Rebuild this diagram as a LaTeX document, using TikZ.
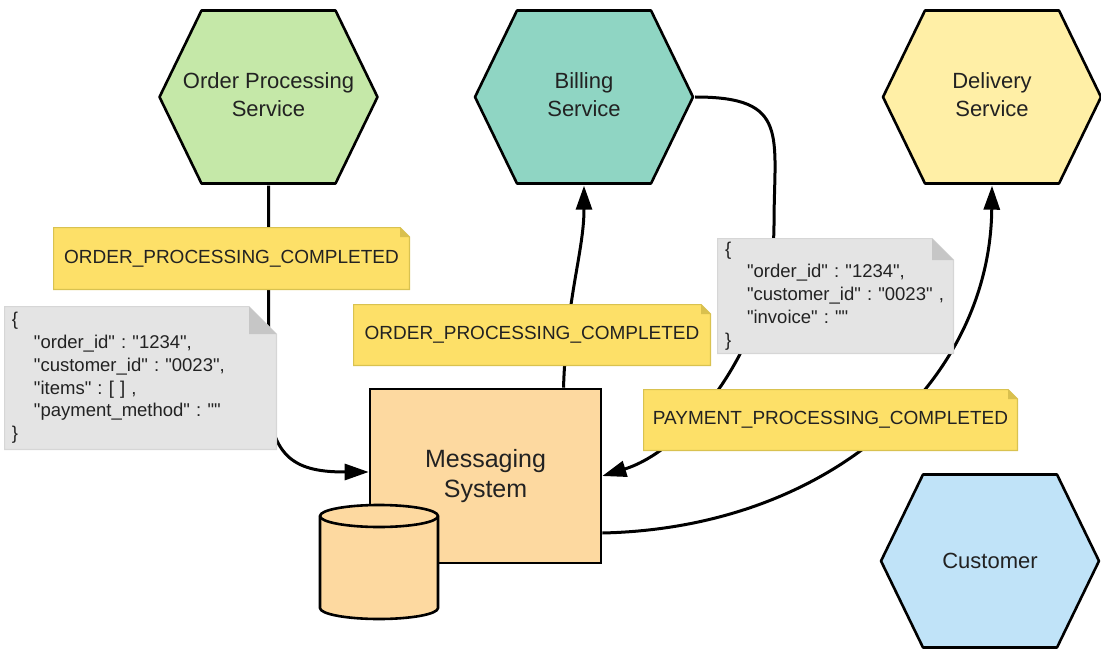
\documentclass[tikz,border=0pt]{standalone}
\usepackage{fontspec}
\setmainfont{Liberation Sans}
\usetikzlibrary{arrows.meta}
\definecolor{opsgreen}{HTML}{C5E8A8}
\definecolor{billteal}{HTML}{8FD5C3}
\definecolor{delyellow}{HTML}{FFEFA6}
\definecolor{custblue}{HTML}{C0E3F8}
\definecolor{msgorange}{HTML}{FDD9A0}
\definecolor{notey}{HTML}{FDE068}
\definecolor{noteyb}{HTML}{D9C250}
\definecolor{noteyf}{HTML}{D9C04E}
\definecolor{noteg}{HTML}{E4E4E4}
\definecolor{notegb}{HTML}{D6D6D6}
\definecolor{notegf}{HTML}{C6C6C6}
\definecolor{inkc}{HTML}{222222}
\newcommand\qd{\XeTeXglyph\the\XeTeXcharglyph"22\relax}
\begin{document}
\frenchspacing
\begin{tikzpicture}[x=1pt,y=-1pt,
  hexa/.style={minimum width=222pt, minimum height=177pt, inner sep=0pt,
    align=center, text=inkc, font=\fontsize{22}{28}\selectfont,
    path picture={\draw[line width=2.6pt, fill=#1, line join=round]
      ([shift={(44pt,-2pt)}]path picture bounding box.north west) --
      ([shift={(-44pt,-2pt)}]path picture bounding box.north east) --
      ([xshift=-2pt]path picture bounding box.east) --
      ([shift={(-44pt,2pt)}]path picture bounding box.south east) --
      ([shift={(44pt,2pt)}]path picture bounding box.south west) --
      ([xshift=2pt]path picture bounding box.west) -- cycle;}},
  notebox/.style n args={4}{inner xsep=8pt, inner ysep=0pt, text=inkc,
    font=\fontsize{19}{22.8}\selectfont,
    path picture={
      \draw[fill=#2, draw=#4, line width=1.2pt]
        ([shift={(0.6pt,-0.6pt)}]path picture bounding box.north west) --
        ([shift={(-#1,-0.6pt)}]path picture bounding box.north east) --
        ([shift={(-0.6pt,-#1)}]path picture bounding box.north east) --
        ([shift={(-0.6pt,0.6pt)}]path picture bounding box.south east) --
        ([shift={(0.6pt,0.6pt)}]path picture bounding box.south west) -- cycle;
      \fill[#3]
        ([shift={(-#1,-0.6pt)}]path picture bounding box.north east) --
        ([shift={(-#1,-#1)}]path picture bounding box.north east) --
        ([shift={(-0.6pt,-#1)}]path picture bounding box.north east) -- cycle;}},
  ynote/.style={notebox={10pt}{notey}{noteyf}{noteyb}, minimum height=62pt},
  gnote/.style={notebox={#1}{noteg}{notegf}{notegb}, align=left,
    font=\fontsize{18.5}{22.8}\selectfont},
  conn/.style={line width=3pt, draw=black},
  arr/.style={-{Triangle[length=24pt,width=16pt]}},
  boxst/.style={draw, line width=2.6pt, fill=msgorange}
]
\useasboundingbox (0,0) rectangle (1101,650);

% services
\node[hexa=opsgreen]  (ops)  at (268.5,97) {Order Processing\\Service\vphantom{g}};
\node[hexa=billteal]  (bill) at (584,97)   {Billing\\Service\vphantom{g}};
\node[hexa=delyellow] (del)  at (992,97)   {Delivery\\Service\vphantom{g}};
\node[hexa=custblue]  (cust) at (990,561)  {Customer};

% messaging system
\node[boxst, minimum width=231pt, minimum height=174pt, align=center, text=inkc,
      font=\fontsize{25}{30}\selectfont] (msg) at (485.5,476) {Messaging\\System\vphantom{g}};

% database cylinder
\filldraw[line width=2.6pt, fill=msgorange]
  (320,516) -- (320,608) arc (180:360:59pt and 11pt) -- (438,516)
  arc (0:180:59pt and 11pt) -- cycle;
\draw[line width=2.6pt] (320,516) arc (180:360:59pt and 11pt);

% connectors
\coordinate (b1) at (774,225);
\draw[conn,arr] (ops.south) -- ++(0,205) .. controls +(0,70) and +(-70,0) .. ([yshift=4pt]msg.west);
\draw[conn,arr] ([xshift=78pt]msg.north) .. controls +(3,-90) and +(0,65) .. (bill.south);
\draw[conn] (bill.east) .. controls +(95,0) and +(0,-90) .. (b1);
\draw[conn,arr] (b1) .. controls +(0,110) and +(90,-28) .. (msg.east);
\draw[conn,arr] ([yshift=-57pt]msg.east) .. controls +(229,-5) and +(-2,195) .. (del.south);

% notes
\node[ynote, minimum width=357pt, minimum height=63pt] (yn1) at (231.5,258.5) {ORDER\_PROCESSING\_COMPLETED};
\node[ynote, minimum width=358pt] (yn2) at (532,335) {ORDER\_PROCESSING\_COMPLETED};
\node[ynote, minimum width=375pt] (yn3) at (830.5,420) {PAYMENT\_PROCESSING\_COMPLETED};

\node[gnote=28pt, minimum width=273pt, minimum height=144pt, text width=257pt] (gn1) at (140.5,378)
 {\{\\
  \hspace*{22pt}\qd order\_id\qd{} : \qd 1234\qd,\\
  \hspace*{22pt}\qd customer\_id\qd{} : \qd 0023\qd,\\
  \hspace*{22pt}\qd items\qd{} : [ ] ,\\
  \hspace*{22pt}\qd payment\_method\qd{} : \qd\qd\\
  \}};
\node[gnote=22pt, minimum width=237pt, minimum height=116pt, text width=221pt] (gn2) at (835.5,296)
 {\{\\
  \hspace*{22pt}\qd order\_id\qd{} : \qd 1234\qd,\\
  \hspace*{22pt}\qd customer\_id\qd{} : \qd 0023\qd{} ,\\
  \hspace*{22pt}\qd invoice\qd{} : \qd\qd\\
  \}};
\end{tikzpicture}
\end{document}
